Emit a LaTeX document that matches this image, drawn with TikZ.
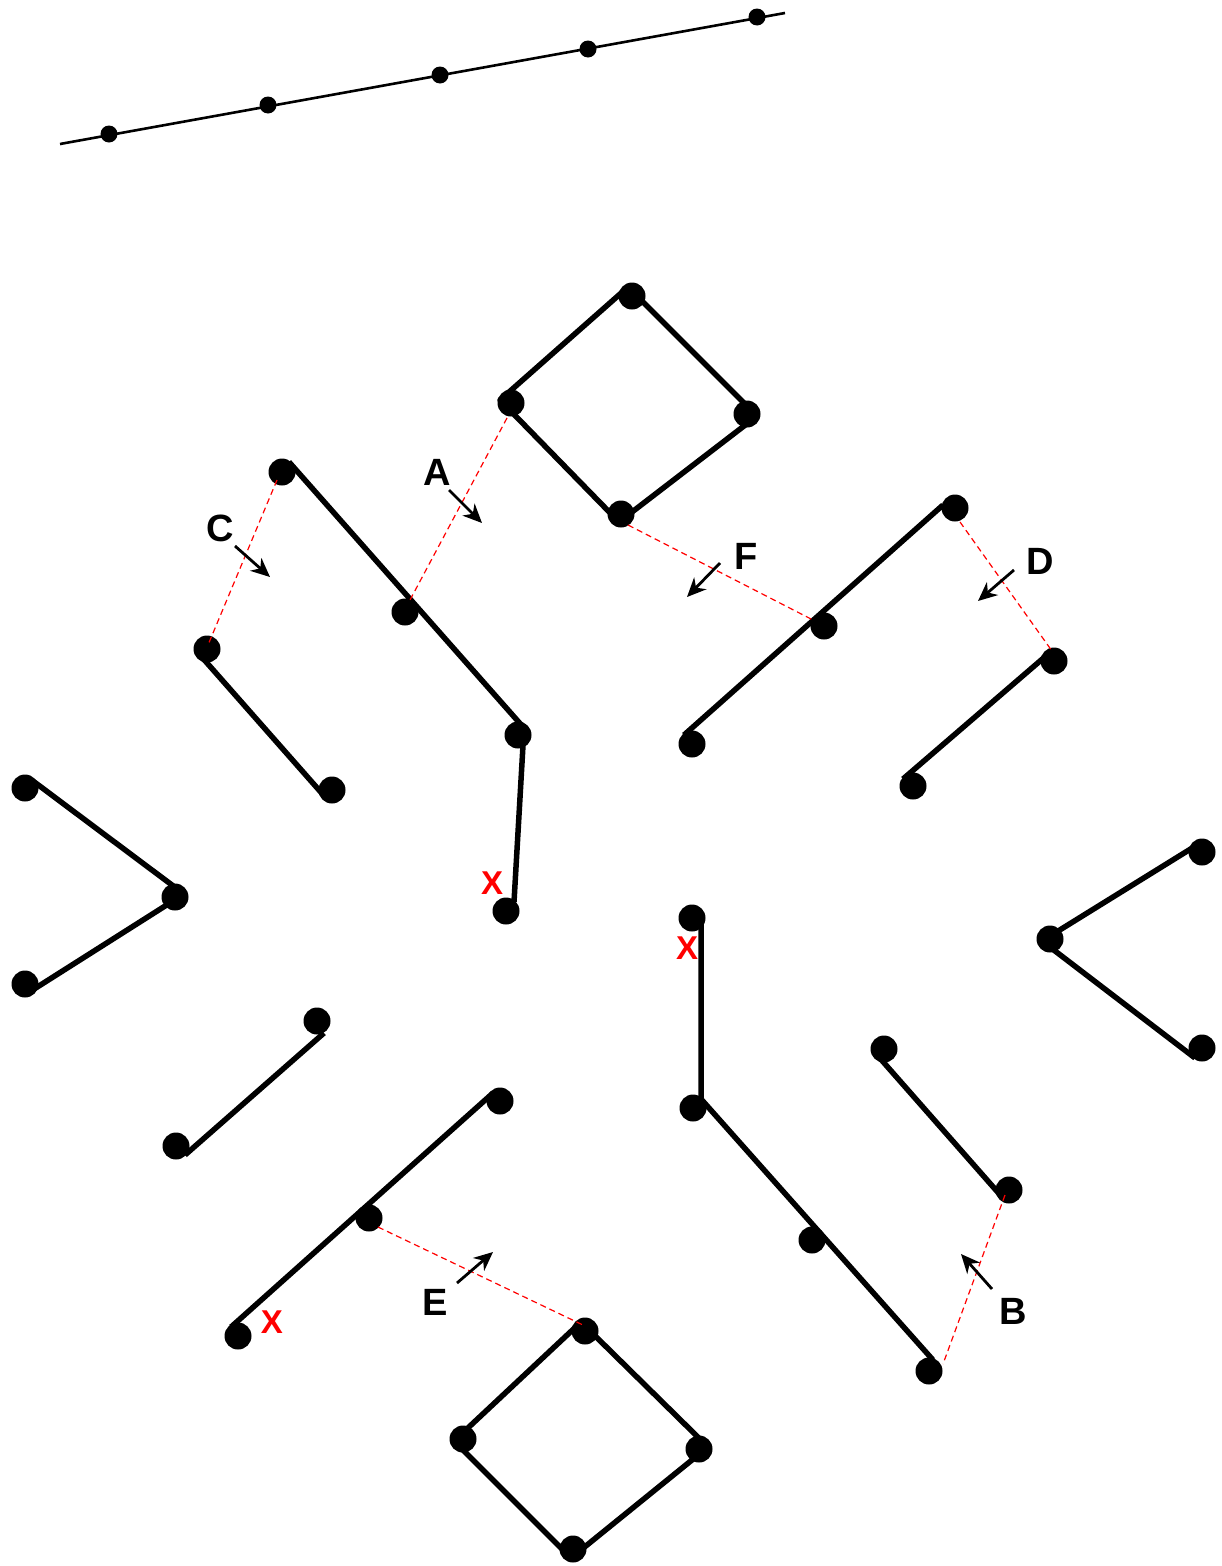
\documentclass[tikz,border=0pt]{standalone}
\usepackage{fontspec}
\setmainfont{Liberation Sans}
\usetikzlibrary{arrows.meta}
\begin{document}
\begin{tikzpicture}[x=1pt,y=-1pt,
  dot/.style={circle,fill=black,inner sep=0pt,minimum size=27pt},
  sdot/.style={circle,fill=black,inner sep=0pt,minimum size=17pt},
  seg/.style={line width=5.5pt,line join=round},
  thinseg/.style={line width=2.6pt},
  redline/.style={red,line width=1.2pt,dash pattern=on 6pt off 4pt},
  pointer/.style={line width=2.8pt,-{Stealth[length=19pt,width=17pt,inset=6pt]}},
  lbl/.style={font=\fontsize{38}{40}\selectfont\bfseries,inner sep=0pt},
  xlbl/.style={text=red,font=\fontsize{33}{35}\selectfont\bfseries,inner sep=0pt}]
\useasboundingbox (0,0) rectangle (1221,1566);

% ---------- top line ----------
\coordinate (la) at (60,144);
\coordinate (lb) at (785,13);
\draw[thinseg] (la) -- (lb);
\node[sdot] (s1) at (109,134) {};
\node[sdot] (s2) at (268,105) {};
\node[sdot] (s3) at (440,75) {};
\node[sdot] (s4) at (588,49) {};
\node[sdot] (s5) at (757,17) {};

% ---------- line vertices ----------
% top square
\coordinate (q1) at (628,287);
\coordinate (q2) at (500,400);
\coordinate (q3) at (757,416);
\coordinate (q4) at (619,522);
% upper-left chain
\coordinate (c1) at (289,462);
\coordinate (c2) at (524,728);
\coordinate (c3) at (514,902);
% upper-left short
\coordinate (u1) at (200,655);
\coordinate (u2) at (326,798);
% left V
\coordinate (v1) at (33,781);
\coordinate (v2) at (184,894);
\coordinate (v3) at (31,991);
% right V
\coordinate (w1) at (1197,845);
\coordinate (w2) at (1042,941);
\coordinate (w3) at (1195,1058);
% lower-left short
\coordinate (p1) at (324,1033);
\coordinate (p2) at (185,1155);
% lower-left long
\coordinate (m1) at (493,1093);
\coordinate (m2) at (231,1327);
% lower-centre chain
\coordinate (k1) at (701,922);
\coordinate (k2) at (701,1099);
\coordinate (k3) at (933,1360);
% lower-right short
\coordinate (r1) at (878,1056);
\coordinate (r2) at (1002,1197);
% upper-right long
\coordinate (n1) at (943,505);
\coordinate (n2) at (684,735);
% upper-right short
\coordinate (h1) at (1047,655);
\coordinate (h2) at (903,779);
% bottom square
\coordinate (b1) at (581,1322);
\coordinate (b2) at (454,1441);
\coordinate (b3) at (708,1447);
\coordinate (b4) at (571,1558);

\draw[seg] (q1) -- (q3) -- (q4) -- (q2) -- cycle;
\draw[seg] (c1) -- (c2) -- (c3);
\draw[seg] (u1) -- (u2);
\draw[seg] (v1) -- (v2) -- (v3);
\draw[seg] (w1) -- (w2) -- (w3);
\draw[seg] (p1) -- (p2);
\draw[seg] (m1) -- (m2);
\draw[seg] (k1) -- (k2) -- (k3);
\draw[seg] (r1) -- (r2);
\draw[seg] (n1) -- (n2);
\draw[seg] (h1) -- (h2);
\draw[seg] (b1) -- (b3) -- (b4) -- (b2) -- cycle;

% ---------- dots ----------
\node[dot] (T1) at (632,296) {};
\node[dot] (T2) at (511,403) {};
\node[dot] (T3) at (747,414) {};
\node[dot] (T4) at (621,514) {};
\node[dot] (C1) at (282,472) {};
\node[dot] (C2) at (405,612) {};
\node[dot] (C3) at (518,735) {};
\node[dot] (C4) at (506,911) {};
\node[dot] (U1) at (207,649) {};
\node[dot] (U2) at (332,790) {};
\node[dot] (V1) at (25,788) {};
\node[dot] (V2) at (175,897) {};
\node[dot] (V3) at (25,984) {};
\node[dot] (W1) at (1202,852) {};
\node[dot] (W2) at (1050,939) {};
\node[dot] (W3) at (1202,1048) {};
\node[dot] (P1) at (317,1021) {};
\node[dot] (P2) at (176,1146) {};
\node[dot] (M1) at (500,1101) {};
\node[dot] (M2) at (369,1218) {};
\node[dot] (M3) at (238,1336) {};
\node[dot] (K1) at (692,918) {};
\node[dot] (K2) at (693,1108) {};
\node[dot] (K3) at (812,1240) {};
\node[dot] (K4) at (929,1371) {};
\node[dot] (R1) at (884,1049) {};
\node[dot] (R2) at (1009,1190) {};
\node[dot] (N1) at (955,508) {};
\node[dot] (N2) at (824,626) {};
\node[dot] (N3) at (692,744) {};
\node[dot] (H1) at (1054,661) {};
\node[dot] (H2) at (913,786) {};
\node[dot] (B1) at (585,1331) {};
\node[dot] (B2) at (463,1439) {};
\node[dot] (B3) at (699,1449) {};
\node[dot] (B4) at (573,1549) {};

% ---------- red dashed links ----------
\draw[redline] ([shift={(-4,15)}]T2.center) -- ([shift={(5,-12)}]C2.center);
\draw[redline] ([shift={(-5,8)}]C1.center) -- ([shift={(1,-4)}]U1.center);
\draw[redline] ([shift={(7,11)}]T4.center) -- ([shift={(-11,-6)}]N2.center);
\draw[redline] ([shift={(5,14)}]N1.center) -- ([shift={(-2,-10)}]H1.center);
\draw[redline] ([shift={(9,9)}]M2.center) -- ([shift={(-2,-6)}]B1.center);
\draw[redline] ([shift={(-4,5)}]R2.center) -- ([shift={(14,-7)}]K4.center);

% ---------- arrows and labels ----------
\coordinate (a0) at (449,490); \coordinate (a1) at (482,523);
\coordinate (cc0) at (235,546); \coordinate (cc1) at (270,577);
\coordinate (f0) at (720,563); \coordinate (f1) at (687,597);
\coordinate (d0) at (1014,570); \coordinate (d1) at (978,601);
\coordinate (e0) at (457,1283); \coordinate (e1) at (493,1252);
\coordinate (bb0) at (992,1289); \coordinate (bb1) at (961,1254);
\draw[pointer] (a0) -- (a1);
\draw[pointer] (cc0) -- (cc1);
\draw[pointer] (f0) -- (f1);
\draw[pointer] (d0) -- (d1);
\draw[pointer] (e0) -- (e1);
\draw[pointer] (bb0) -- (bb1);
\node[lbl] (LA) at (437,472) {A};
\node[lbl] (LC) at (220,528) {C};
\node[lbl] (LF) at (746,556) {F};
\node[lbl] (LD) at (1040,561) {D};
\node[lbl] (LE) at (435,1302) {E};
\node[lbl] (LB) at (1013,1311) {B};

\node[xlbl] (X1) at (492,883) {X};
\node[xlbl] (X2) at (687,948) {X};
\node[xlbl] (X3) at (272,1322) {X};
\end{tikzpicture}
\end{document}
